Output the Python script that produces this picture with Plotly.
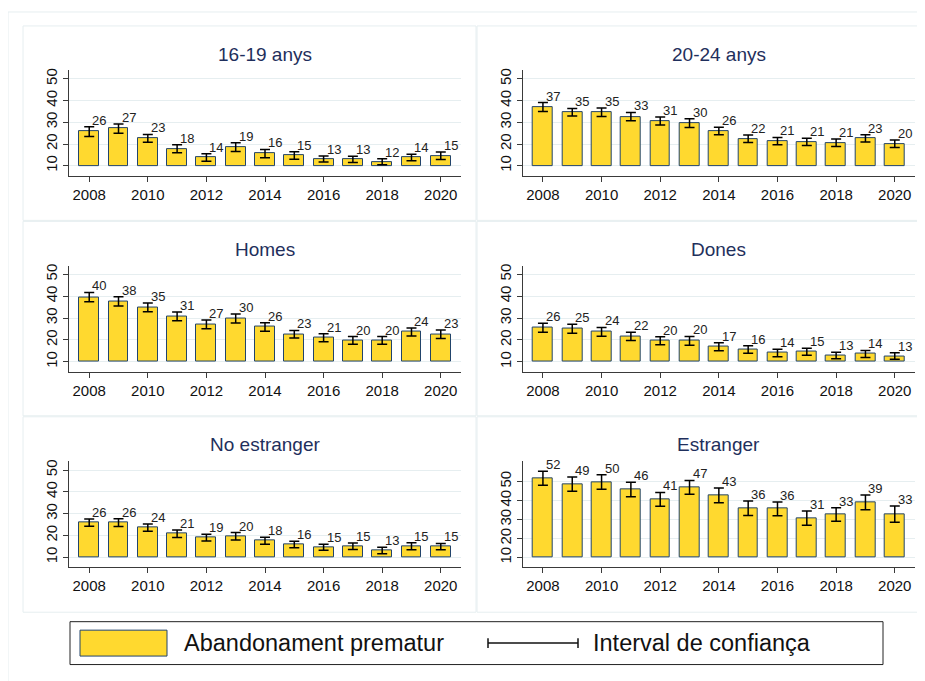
import plotly.graph_objects as go

# %% data (percentages, bars start at 10)
years = list(range(2008, 2021))
panel_titles = ["16-19 anys", "20-24 anys", "Homes", "Dones", "No estranger", "Estranger"]

pct_16_19 = [25.7, 27.1, 22.6, 17.8, 13.8, 18.6, 15.6, 14.7, 13.1, 12.9, 11.8, 13.8, 14.6]
ci_16_19 = [2.2, 2.1, 1.8, 1.8, 1.75, 2.0, 1.9, 1.7, 1.4, 1.45, 1.4, 1.5, 1.75]

pct_20_24 = [37.0, 34.6, 34.6, 32.6, 30.6, 29.6, 26.0, 22.4, 21.3, 21.0, 20.6, 22.6, 20.1]
ci_20_24 = [2.1, 1.75, 2.0, 1.9, 1.85, 2.0, 1.75, 1.7, 1.7, 1.7, 1.75, 1.7, 1.75]

pct_homes = [39.6, 37.6, 34.9, 30.8, 27.1, 29.8, 25.9, 22.6, 21.0, 19.8, 19.8, 23.6, 22.6]
ci_homes = [2.1, 2.1, 2.0, 2.0, 2.0, 2.1, 1.9, 1.75, 1.8, 1.75, 1.75, 1.85, 1.9]

pct_dones = [25.6, 25.1, 23.7, 21.6, 19.6, 19.6, 16.9, 15.6, 14.0, 14.6, 12.9, 13.6, 12.6]
ci_dones = [2.05, 2.1, 2.0, 1.9, 1.85, 2.0, 1.85, 1.7, 1.7, 1.6, 1.5, 1.6, 1.5]

pct_no_estr = [25.9, 25.9, 23.6, 20.8, 19.0, 19.6, 17.6, 15.8, 14.6, 15.0, 13.1, 15.0, 14.9]
ci_no_estr = [1.7, 1.8, 1.7, 1.7, 1.6, 1.7, 1.6, 1.5, 1.4, 1.5, 1.45, 1.6, 1.45]

pct_estr = [51.7, 48.6, 49.7, 45.8, 40.6, 46.9, 42.7, 35.9, 35.6, 30.7, 32.6, 39.0, 32.8]
ci_estr = [3.65, 3.7, 3.8, 3.8, 3.65, 3.65, 3.9, 3.8, 3.6, 3.75, 3.55, 3.9, 4.25]

series = [
    (pct_16_19, ci_16_19),
    (pct_20_24, ci_20_24),
    (pct_homes, ci_homes),
    (pct_dones, ci_dones),
    (pct_no_estr, ci_no_estr),
    (pct_estr, ci_estr),
]

# %% layout helpers (window pixel -> paper); the page body adds an 8px offset
OX, OY = 8, 8
W, H = 917, 673
FONT = "Arial, 'Liberation Sans', sans-serif"
BAR_FILL = "#FFD92F"
BAR_LINE = "#22446b"
GRID = "#e6eef0"
FRAME = "#e6eef0"
TITLE_COLOR = "#1f2f5c"
AXIS_COLOR = "#3a3a3a"


def px(x):
    return (x - OX) / W


def py(y):
    return 1 - (y - OY) / H


col_x = [(69, 461), (522.7, 915)]
row_y = [(68.3, 174), (264.3, 370.7), (460.7, 566.7)]
title_y = [53, 248, 444]

fig = go.Figure()

for i, (title, (vals, ci)) in enumerate(zip(panel_titles, series)):
    r, c = divmod(i, 2)
    k = "" if i == 0 else str(i + 1)
    xa, ya = "x" + k, "y" + k

    fig.add_trace(go.Bar(
        x=years, y=[v - 10 for v in vals], base=10, width=0.68,
        marker=dict(color=BAR_FILL, line=dict(color=BAR_LINE, width=1)),
        xaxis=xa, yaxis=ya, hoverinfo="skip",
    ))
    fig.add_trace(go.Scatter(
        x=years, y=vals, mode="markers",
        marker=dict(size=1, color="rgba(0,0,0,0)"),
        error_y=dict(type="data", array=ci, color="black", thickness=1.5, width=5),
        xaxis=xa, yaxis=ya, hoverinfo="skip",
    ))
    for yr, v, e in zip(years, vals, ci):
        fig.add_annotation(
            x=yr, y=v + e, xref=xa, yref=ya, text=f"{round(v)}",
            showarrow=False, xanchor="left", yanchor="bottom",
            xshift=1, yshift=-3, font=dict(family=FONT, size=13, color="#222"),
        )

    x0, x1 = col_x[c]
    y0, y1 = row_y[r]
    yrange = [4.95, 60.6] if title == "Estranger" else [5.5, 54.0]
    fig.update_layout({
        "xaxis" + k: dict(
            domain=[px(x0), px(x1)], anchor=ya, range=[2007.31, 2020.69],
            tickvals=years[::2], ticks="outside", ticklen=5, tickcolor=AXIS_COLOR,
            showline=True, linecolor=AXIS_COLOR, showgrid=False, zeroline=False,
            tickfont=dict(family=FONT, size=15, color="#111"),
        ),
        "yaxis" + k: dict(
            domain=[py(y1), py(y0)], anchor=xa, range=yrange,
            tickvals=[10, 20, 30, 40, 50], tickangle=-90, ticks="outside", ticklen=5,
            tickcolor=AXIS_COLOR, showline=True, linecolor=AXIS_COLOR,
            showgrid=True, gridcolor=GRID, gridwidth=1, zeroline=False,
            tickfont=dict(family=FONT, size=15, color="#111"),
        ),
    })
    fig.add_annotation(
        x=px((x0 + x1) / 2), y=py(title_y[r]), xref="paper", yref="paper",
        text=title, showarrow=False, xanchor="center", yanchor="middle",
        font=dict(family=FONT, size=19, color=TITLE_COLOR),
    )

# %% frames around the panels and the outer graph region
shapes = [dict(type="rect", x0=px(8), x1=px(935), y0=py(10), y1=py(690),
               xref="paper", yref="paper", line=dict(color=FRAME, width=1))]
panel_rows = [(24, 219), (220, 415), (416, 612)]
panel_cols = [(23, 476), (477, 935)]
for (t, b) in panel_rows:
    for (l, rr) in panel_cols:
        shapes.append(dict(type="rect", x0=px(l), x1=px(rr), y0=py(b), y1=py(t),
                           xref="paper", yref="paper", line=dict(color=FRAME, width=1)))

# legend box, swatch and error bar key
shapes += [
    dict(type="rect", x0=px(70), x1=px(883), y0=py(664.5), y1=py(621.5),
         xref="paper", yref="paper", line=dict(color="#222", width=1), fillcolor="white"),
    dict(type="rect", x0=px(80), x1=px(167), y0=py(656), y1=py(630),
         xref="paper", yref="paper", line=dict(color=BAR_LINE, width=1), fillcolor=BAR_FILL),
    dict(type="line", x0=px(488), x1=px(578), y0=py(643), y1=py(643),
         xref="paper", yref="paper", line=dict(color="#111", width=1.5)),
    dict(type="line", x0=px(488), x1=px(488), y0=py(638), y1=py(648),
         xref="paper", yref="paper", line=dict(color="#111", width=1.5)),
    dict(type="line", x0=px(578), x1=px(578), y0=py(638), y1=py(648),
         xref="paper", yref="paper", line=dict(color="#111", width=1.5)),
]

fig.add_annotation(x=px(182), y=py(643), xref="paper", yref="paper",
                   text="Abandonament prematur", showarrow=False,
                   xanchor="left", yanchor="middle",
                   font=dict(family=FONT, size=23.5, color="#111"))
fig.add_annotation(x=px(591), y=py(643), xref="paper", yref="paper",
                   text="Interval de confiança", showarrow=False,
                   xanchor="left", yanchor="middle",
                   font=dict(family=FONT, size=23.5, color="#111"))

fig.update_layout(
    width=W, height=H, margin=dict(l=0, r=0, t=0, b=0),
    paper_bgcolor="white", plot_bgcolor="white",
    showlegend=False, shapes=shapes, bargap=0,
    font=dict(family=FONT),
)

fig.write_html("out.html")
